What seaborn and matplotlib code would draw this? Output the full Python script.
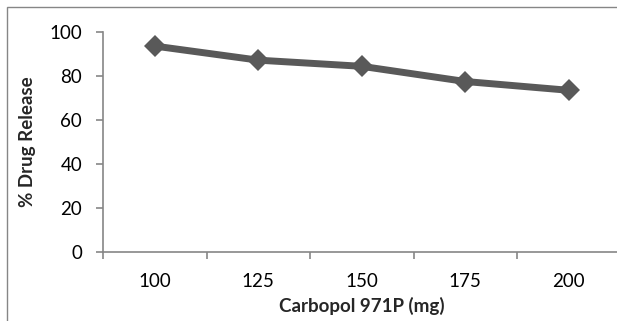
import matplotlib
matplotlib.use("Agg")
import matplotlib.pyplot as plt
from matplotlib.patches import Rectangle
from matplotlib.ticker import FixedLocator
import seaborn as sns
import pandas as pd

categories = ["100", "125", "150", "175", "200"]
release = [93.6, 87.2, 84.4, 77.5, 73.5]
y_ticks = [0, 20, 40, 60, 80, 100]

sns.set_style("white")
plt.rcParams["font.family"] = ["Lato", "DejaVu Sans"]

df = pd.DataFrame({"dose": categories, "release": release})

fig = plt.figure(figsize=(6.17, 3.21), dpi=100)
W, H = 617, 321
ax = fig.add_axes([103 / W, (H - 252) / H, 517.5 / W, 220 / H])

sns.lineplot(data=df, x="dose", y="release", ax=ax, color="#595959",
             linewidth=5, marker="D", markersize=11, markeredgewidth=0,
             sort=False)

ax.set_xlim(-0.5, 4.5)
ax.set_ylim(0, 100)
ax.set_yticks(y_ticks)
ax.set_xticks(range(len(categories)))
ax.set_xticklabels(categories)
ax.xaxis.set_minor_locator(FixedLocator([i - 0.5 for i in range(len(categories) + 1)]))

gray = "#868686"
for s in ["top", "right"]:
    ax.spines[s].set_visible(False)
for s in ["left", "bottom"]:
    ax.spines[s].set_color(gray)
    ax.spines[s].set_linewidth(1.2)

fs = 13.5
ax.tick_params(axis="x", which="both", bottom=True)
ax.tick_params(axis="y", which="both", left=True)
ax.tick_params(axis="x", which="major", length=0, pad=15, labelsize=fs, colors="black")
ax.tick_params(axis="x", which="minor", length=5, width=1.2, color=gray, direction="out")
ax.tick_params(axis="y", which="major", length=5, width=1.2, color=gray, direction="out",
               pad=10, labelsize=fs, labelcolor="black")

ax.set_xlabel("Carbopol 971P (mg)", fontsize=fs, fontweight="bold", labelpad=5)
ax.set_ylabel("% Drug Release", fontsize=fs, fontweight="bold", labelpad=10)

fig.patches.append(Rectangle((7 / W, -0.1), 1.2, 1.1 - 7 / H,
                             transform=fig.transFigure, fill=False,
                             edgecolor=gray, linewidth=1.0))

fig.savefig("out.png", dpi=100)
